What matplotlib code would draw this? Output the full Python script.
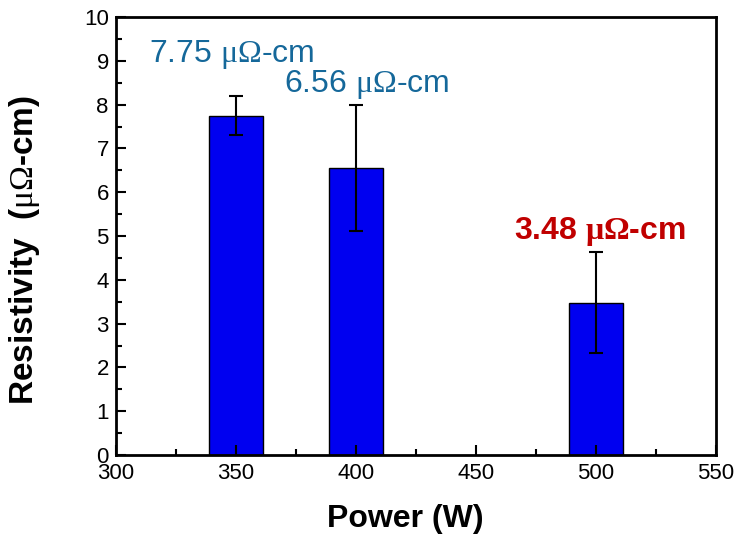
import matplotlib.pyplot as plt
from matplotlib.ticker import MultipleLocator

plt.rcParams['font.family'] = ['Liberation Sans', 'DejaVu Sans']
plt.rcParams['mathtext.fontset'] = 'custom'
plt.rcParams['mathtext.rm'] = 'Liberation Serif'
plt.rcParams['mathtext.it'] = 'Liberation Serif'
plt.rcParams['mathtext.bf'] = 'Liberation Serif:bold'

power = [350, 400, 500]
resistivity = [7.75, 6.56, 3.48]
errors = [0.45, 1.44, 1.15]

labels = ['7.75 $\\mathrm{μΩ}$-cm', '6.56 $\\mathrm{μΩ}$-cm', '3.48 $\\mathbf{μΩ}$-cm']
label_pos = [(314, 8.97), (370, 8.3), (466, 4.93)]
label_colors = ['#15689a', '#15689a', '#c00000']
label_weights = ['normal', 'normal', 'bold']

fig = plt.figure(figsize=(7.47, 5.42), dpi=100)
ax = fig.add_axes([0.155, 0.1605, 0.803, 0.808])

ax.bar(power, resistivity, width=22.5, color='#0000f0', edgecolor='black', linewidth=1)
ax.errorbar(power, resistivity, yerr=errors, fmt='none', ecolor='black',
            elinewidth=1.5, capsize=5, capthick=1.5)

for txt, (x, y), c, w in zip(labels, label_pos, label_colors, label_weights):
    ax.text(x, y, txt, color=c, fontsize=23, fontweight=w, ha='left', va='baseline')

ax.set_xlim(300, 550)
ax.set_ylim(0, 10)
ax.xaxis.set_major_locator(MultipleLocator(50))
ax.xaxis.set_minor_locator(MultipleLocator(25))
ax.yaxis.set_major_locator(MultipleLocator(1))
ax.yaxis.set_minor_locator(MultipleLocator(0.5))
ax.tick_params(which='both', direction='in', width=1.5, labelsize=16)
ax.tick_params(which='major', length=7)
ax.tick_params(which='minor', length=4)
ax.tick_params(axis='x', which='major', pad=6)
ax.tick_params(axis='y', which='major', pad=5)
for s in ax.spines.values():
    s.set_linewidth(2)

ax.set_xlabel('Power (W)', fontsize=23, fontweight='bold')
ax.set_ylabel('Resistivity  ($\\mathrm{μΩ}$-cm)', fontsize=24, fontweight='bold')
ax.xaxis.set_label_coords(0.482, -0.112)
ax.yaxis.set_label_coords(-0.123, 0.468)

fig.savefig('out.png', dpi=100)
